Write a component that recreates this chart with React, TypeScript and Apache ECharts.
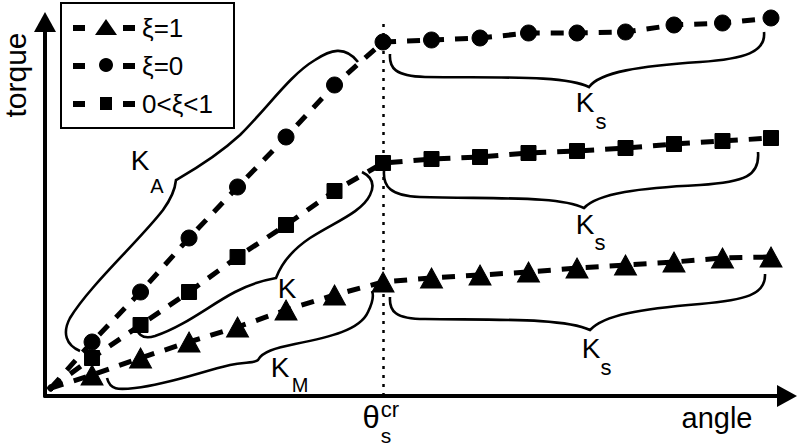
import React, { useEffect, useRef } from "react";
import * as echarts from "echarts";

// ---- data ----
const angles = [0.15, 1, 2, 3, 4, 5, 6, 7, 8, 9, 10, 11, 12, 13, 14, 15];
const torqueXi1 = [8, 21, 38, 54, 69, 86, 101, 114, 118, 121, 124, 128, 131, 134, 138, 139];
const torqueXi0 = [8, 54, 104, 158, 209, 259, 311, 354, 356, 358, 363, 363, 364, 371, 373, 378];
const torqueXiMid = [8, 38, 71, 104, 139, 171, 205, 233, 237, 239, 243, 245, 248, 252, 255, 258];
const criticalAngle = 7;
const seriesNames = ["ξ=1", "ξ=0", "0<ξ<1"];
const axisNames = ["angle", "torque"];

// ---- annotation braces (drawn as one registered path) ----
const BRACES =
  "M 80 351 C 66 345 62 333 70 318 C 90 285 140 240 163 210 C 171 199 175 190 176 180 C 190 172 215 158 240 135 C 270 105 290 75 315 60 C 330 50 345 45 358 62 " +
  "M 136 322 C 136 334 142 340 155 336 C 185 326 210 305 235 292 C 250 284 265 280 276 278 C 282 262 292 250 310 238 C 335 222 362 212 370 195 C 375 185 372 177 362 172 " +
  "M 107 378 C 110 390 118 390 135 388 C 170 384 200 372 230 365 C 245 362 255 363 258 360 C 262 352 275 348 295 344 C 330 337 360 330 368 312 C 373 302 374 296 372 291 " +
  "M 390 54 C 389 68 395 76 425 77 C 500 78 565 75 589 87 C 600 72 640 66 700 62 C 745 59 766 52 764 32 " +
  "M 384 171 C 383 186 390 196 420 197 C 500 199 560 196 584 208 C 598 193 640 188 700 185 C 745 182 760 176 758 152 " +
  "M 390 297 C 389 311 395 319 425 319 C 500 320 565 318 590 330 C 604 315 640 309 700 304 C 745 300 766 295 765 274";

echarts.graphic.registerShape("braces", echarts.graphic.extendPath(BRACES, {}));

const FONT = '"Liberation Sans", Arial, sans-serif';

function txt(text: string, x: number, y: number, size: number, rotation = 0) {
  return {
    type: "text",
    x,
    y,
    rotation,
    z: 20,
    style: {
      text,
      fill: "#000",
      font: `${size}px ${FONT}`,
      align: "center",
      verticalAlign: "middle",
    },
  };
}

function legendRow(y: number, label: string, kind: string) {
  const els: any[] = [
    { type: "line", z: 21, shape: { x1: 73, y1: y, x2: 85, y2: y }, style: { stroke: "#000", lineWidth: 6 } },
    { type: "line", z: 21, shape: { x1: 123, y1: y, x2: 135, y2: y }, style: { stroke: "#000", lineWidth: 6 } },
  ];
  if (kind === "triangle") {
    els.push({ type: "polygon", z: 21, shape: { points: [[106, y - 9], [117, y + 7], [95, y + 7]] }, style: { fill: "#000" } });
  } else if (kind === "circle") {
    els.push({ type: "circle", z: 21, shape: { cx: 106, cy: y - 1, r: 7 }, style: { fill: "#000" } });
  } else {
    els.push({ type: "rect", z: 21, shape: { x: 100, y: y - 7, width: 12, height: 13 }, style: { fill: "#000" } });
  }
  els.push({
    type: "text",
    z: 21,
    x: 142,
    y,
    style: { text: label, fill: "#000", font: `26px ${FONT}`, align: "left", verticalAlign: "middle" },
  });
  return els;
}

function makeSeries(name: string, values: number[], symbol: string, size: any, withMark = false) {
  const s: any = {
    type: "line",
    name,
    data: angles.map((a, i) =>
      i === 0 ? { value: [a, values[i]], symbol: "circle", symbolSize: 6 } : [a, values[i]]
    ),
    symbol,
    symbolSize: size,
    showAllSymbol: true,
    clip: false,
    lineStyle: { color: "#000", width: 5, type: [13, 11] },
    itemStyle: { color: "#000", borderColor: "#000" },
    z: 5,
  };
  if (withMark) {
    s.markLine = {
      silent: true,
      symbol: ["none", "none"],
      label: { show: false },
      lineStyle: { color: "#000", type: [3, 6], width: 2.5 },
      data: [{ xAxis: criticalAngle }],
    };
  }
  return s;
}

export default function App() {
  const ref = useRef<HTMLDivElement>(null);
  useEffect(() => {
    if (!ref.current) return;
    const chart = echarts.init(ref.current, null, { renderer: "svg" });
    const graphic: any[] = [
      { type: "braces", x: 0, y: 0, z: 15, shape: {}, style: { fill: "none", stroke: "#000", lineWidth: 2.6 } },
      { type: "rect", z: 20, shape: { x: 61, y: 3, width: 173, height: 125 }, style: { fill: "#fff", stroke: "#000", lineWidth: 2 } },
      ...legendRow(28, seriesNames[0], "triangle"),
      ...legendRow(66, seriesNames[1], "circle"),
      ...legendRow(104, seriesNames[2], "square"),
      txt(axisNames[1], 15, 75, 30, Math.PI / 2),
      txt(axisNames[0], 717, 418, 29),
      txt("θ", 371, 417, 31),
      txt("cr", 390, 409, 22),
      txt("s", 386, 435, 21),
      txt("K", 140, 160, 28),
      txt("A", 157, 186, 20),
      txt("K", 287, 288, 28),
      txt("K", 280, 367, 28),
      txt("M", 300, 385, 20),
      txt("K", 585, 102, 28),
      txt("s", 601, 121, 22),
      txt("K", 585, 224, 28),
      txt("s", 600, 242, 22),
      txt("K", 591, 348, 28),
      txt("s", 606, 367, 22),
    ];
    chart.setOption({
      animation: false,
      backgroundColor: "#fff",
      grid: { left: 45, right: 13, top: 22, bottom: 51 },
      xAxis: {
        type: "value",
        min: 0.03,
        max: 15.33,
        axisLine: {
          onZero: false,
          symbol: ["none", "triangle"],
          symbolSize: [22, 20],
          lineStyle: { color: "#000", width: 4 },
        },
        axisTick: { show: false },
        axisLabel: { show: false },
        splitLine: { show: false },
      },
      yAxis: {
        type: "value",
        min: 0,
        max: 374,
        axisLine: {
          show: true,
          onZero: false,
          symbol: ["none", "triangle"],
          symbolSize: [22, 20],
          lineStyle: { color: "#000", width: 4 },
        },
        axisTick: { show: false },
        axisLabel: { show: false },
        splitLine: { show: false },
      },
      series: [
        makeSeries(seriesNames[0], torqueXi1, "triangle", [22, 20]),
        makeSeries(seriesNames[1], torqueXi0, "circle", 16, true),
        makeSeries(seriesNames[2], torqueXiMid, "rect", 15),
      ],
      graphic,
    });
    return () => chart.dispose();
  }, []);
  return (
    <div
      ref={ref}
      style={{ position: "fixed", left: 0, top: 0, width: 800, height: 447, background: "#fff" }}
    />
  );
}
